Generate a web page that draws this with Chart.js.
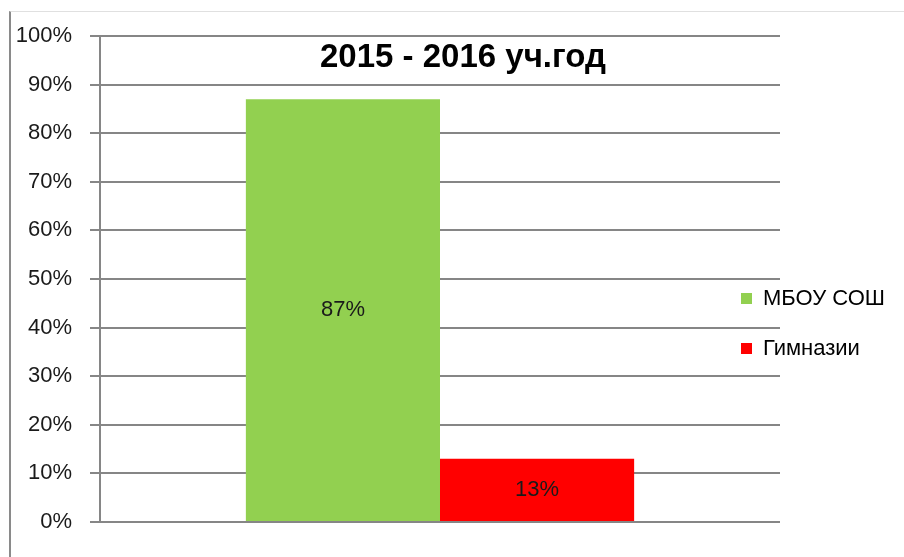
<!DOCTYPE html>
<html lang="ru">
<head>
  <meta charset="UTF-8">
  <title>2015 - 2016 уч.год</title>
  <style>
    body {
      margin: 0;
      background: #fff;
    }

    #frame {
      position: absolute;
      left: 9px;
      top: 11px;
      width: 895px;
      height: 546px;
      border-top: 1px solid #e0e0e0;
      border-left: 2px solid #8a8a8a;
      box-sizing: border-box;
    }

    #chart {
      position: absolute;
      left: 0;
      top: 0;
    }
  </style>
</head>
<body>
  <div id="frame"></div>
  <canvas id="chart" width="904" height="557"></canvas>

  <script src="https://cdn.jsdelivr.net/npm/chart.js@4"></script>
  <script>
    const title = '2015 - 2016 уч.год';
    const categories = [''];
    const seriesNames = ['МБОУ СОШ', 'Гимназии'];
    const seriesValues = [[87], [13]];
    const seriesColors = ['#92d050', '#ff0000'];
    const yTicks = [0, 10, 20, 30, 40, 50, 60, 70, 80, 90, 100];

    const gridColor = '#868686';
    const fontName = "'Liberation Sans', Arial, sans-serif";

    // value labels in the middle of each bar
    const barLabels = {
      id: 'barLabels',
      afterDatasetsDraw(chart) {
        const ctx = chart.ctx;
        ctx.save();
        ctx.font = '22px ' + fontName;
        ctx.fillStyle = '#1a1a1a';
        ctx.textAlign = 'center';
        ctx.textBaseline = 'middle';
        chart.data.datasets.forEach((ds, i) => {
          chart.getDatasetMeta(i).data.forEach((bar, j) => {
            const y = (bar.y + bar.base) / 2;
            ctx.fillText(ds.data[j] + '%', bar.x, y);
          });
        });
        ctx.restore();
      }
    };

    // title sits inside the plot, above the bars
    const chartTitle = {
      id: 'chartTitle',
      afterDraw(chart) {
        const ctx = chart.ctx;
        ctx.save();
        ctx.font = 'bold 33px ' + fontName;
        ctx.fillStyle = '#000';
        ctx.textAlign = 'center';
        ctx.textBaseline = 'alphabetic';
        ctx.fillText(title, 463, 67);
        ctx.restore();
      }
    };

    // legend on the right side, Excel style
    const sideLegend = {
      id: 'sideLegend',
      afterDraw(chart) {
        const ctx = chart.ctx;
        ctx.save();
        ctx.font = '22px ' + fontName;
        ctx.textBaseline = 'middle';
        ctx.textAlign = 'left';
        chart.data.datasets.forEach((ds, i) => {
          const cy = 299 + i * 50;
          ctx.fillStyle = ds.backgroundColor;
          ctx.fillRect(741, cy - 6, 11, 11);
          ctx.fillStyle = '#000';
          ctx.fillText(ds.label, 763, cy);
        });
        ctx.restore();
      }
    };

    const ctx = document.querySelector('#chart').getContext('2d');
    const chart = new Chart(ctx, {
      type: 'bar',
      data: {
        labels: categories,
        datasets: seriesNames.map((name, i) => ({
          label: name,
          data: seriesValues[i],
          backgroundColor: seriesColors[i],
          borderWidth: 0,
          categoryPercentage: 0.571,
          barPercentage: 1.0
        }))
      },
      options: {
        responsive: false,
        animation: false,
        layout: {
          padding: { left: 10, top: 36, right: 124, bottom: 35 }
        },
        plugins: {
          legend: { display: false },
          title: { display: false },
          tooltip: { enabled: false }
        },
        scales: {
          x: {
            display: false
          },
          y: {
            min: 0,
            max: 100,
            afterBuildTicks(scale) {
              scale.ticks = yTicks.map(v => ({ value: v }));
            },
            afterFit(scale) {
              scale.width = 90;
            },
            ticks: {
              padding: 18,
              color: '#1a1a1a',
              font: { family: fontName, size: 22 },
              callback: v => v + '%'
            },
            grid: {
              color: gridColor,
              lineWidth: 2,
              tickLength: 10,
              drawOnChartArea: true
            },
            border: {
              display: true,
              color: gridColor,
              width: 2
            }
          }
        }
      },
      plugins: [barLabels, chartTitle, sideLegend]
    });
  </script>
</body>
</html>
